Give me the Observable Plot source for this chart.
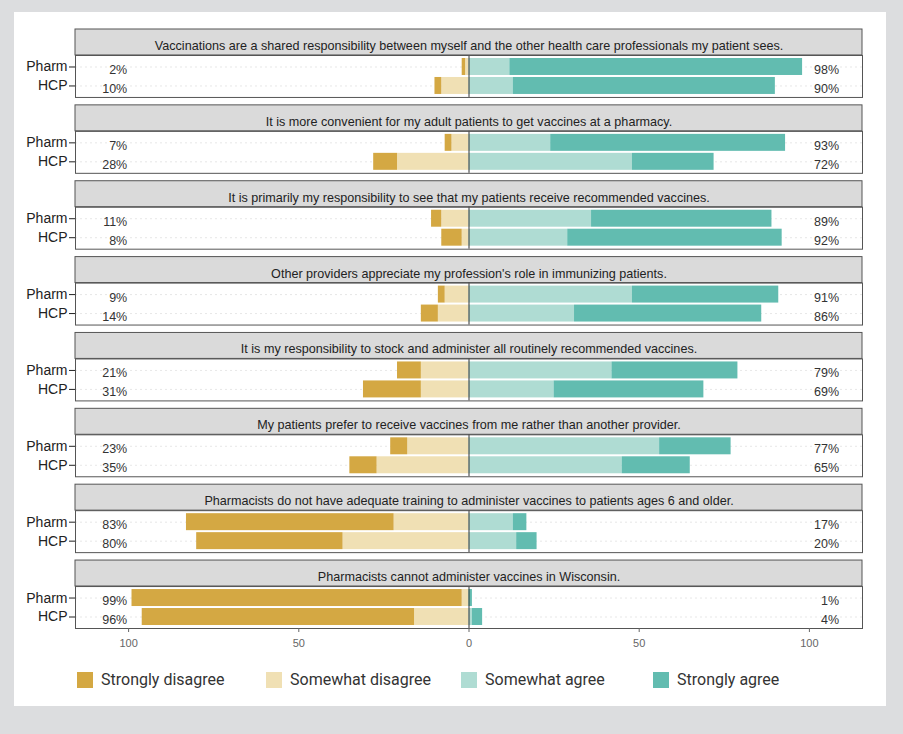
<!DOCTYPE html>
<html>
<head>
<meta charset="utf-8">
<script src="https://cdn.jsdelivr.net/npm/d3@7"></script>
<script src="https://cdn.jsdelivr.net/npm/@observablehq/plot@0.6"></script>
<style>
  html, body { margin: 0; padding: 0; background: #dcdddf; width: 903px; height: 734px; overflow: hidden; }
  #card { position: absolute; left: 14px; top: 12px; width: 872px; height: 694px; background: #ffffff; }
  #legend { position: absolute; left: 63px; top: 658px; font-family: Roboto, "Liberation Sans", sans-serif; font-size: 16px; color: #333; }
  .item { position: absolute; top: 0; white-space: nowrap; display: flex; align-items: center; }
  .sw { width: 16px; height: 16px; margin-right: 8px; display: inline-block; }
</style>
</head>
<body>
<div id="card">
  <div id="chart"></div>
  <div id="legend"></div>
</div>
<script>
const statements = [
  "Vaccinations are a shared responsibility between myself and the other health care professionals my patient sees.",
  "It is more convenient for my adult patients to get vaccines at a pharmacy.",
  "It is primarily my responsibility to see that my patients receive recommended vaccines.",
  "Other providers appreciate my profession's role in immunizing patients.",
  "It is my responsibility to stock and administer all routinely recommended vaccines.",
  "My patients prefer to receive vaccines from me rather than another provider.",
  "Pharmacists do not have adequate training to administer vaccines to patients ages 6 and older.",
  "Pharmacists cannot administer vaccines in Wisconsin."
];
const groups = ["Pharm", "HCP"];
const responses = ["Strongly disagree", "Somewhat disagree", "Somewhat agree", "Strongly agree"];
const colors = ["#d4a843", "#f0e0b4", "#afdcd3", "#62bcb0"];
const xTicks = [-100, -50, 0, 50, 100];

// values per statement: [Pharm, HCP]
const stronglyDisagree = [[1, 2], [2, 7], [3, 6], [2, 5], [7, 17], [5, 8], [61, 43], [97, 80]];
const somewhatDisagree = [[1, 8], [5, 21], [8, 2], [7, 9], [14, 14], [18, 27], [22, 37], [2, 16]];
const somewhatAgree    = [[12, 13], [24, 48], [36, 29], [48, 31], [42, 25], [56, 45], [13, 14], [0, 1]];
const stronglyAgree    = [[86, 77], [69, 24], [53, 63], [43, 55], [37, 44], [21, 20], [4, 6], [1, 3]];
const disagreeTotals   = [[2, 10], [7, 28], [11, 8], [9, 14], [21, 31], [23, 35], [83, 80], [99, 96]];
const agreeTotals      = [[98, 90], [93, 72], [89, 92], [91, 86], [79, 69], [77, 65], [17, 20], [1, 4]];

const bars = [];
const labels = [];
statements.forEach((s, i) => {
  groups.forEach((g, j) => {
    bars.push({statement: s, group: g, response: "Somewhat disagree", value: -somewhatDisagree[i][j]});
    bars.push({statement: s, group: g, response: "Strongly disagree", value: -stronglyDisagree[i][j]});
    bars.push({statement: s, group: g, response: "Somewhat agree", value: somewhatAgree[i][j]});
    bars.push({statement: s, group: g, response: "Strongly agree", value: stronglyAgree[i][j]});
    labels.push({statement: s, group: g, dis: disagreeTotals[i][j] + "%", agr: agreeTotals[i][j] + "%"});
  });
});
const heads = statements.map(s => ({statement: s}));

const chart = Plot.plot({
  width: 872,
  height: 646,
  marginTop: 43,
  marginBottom: 30,
  marginLeft: 61,
  marginRight: 24,
  style: {fontFamily: "'Liberation Sans', Arial, sans-serif", background: "transparent"},
  x: {domain: [-115.6, 115.6], label: null},
  y: {domain: groups, paddingInner: 0.105, paddingOuter: 0.158, label: null, round: false},
  fy: {domain: statements, axis: null, paddingInner: 0.447, paddingOuter: 0, round: false},
  color: {domain: responses, range: colors},
  marks: [
    Plot.rect(heads, {fy: "statement", insetTop: -26, insetBottom: 42, fill: "#dadada", stroke: "#555", strokeWidth: 1}),
    Plot.text(heads, {fy: "statement", text: "statement", frameAnchor: "top", dy: -14.5, fontSize: 12.6, fill: "#222"}),
    Plot.gridY({stroke: "#bbb", strokeOpacity: 0.35, strokeDasharray: "2,3"}),
    Plot.barX(bars, {x: "value", y: "group", fy: "statement", fill: "response", order: ["Somewhat disagree", "Strongly disagree", "Somewhat agree", "Strongly agree"]}),
    Plot.ruleX([0], {stroke: "#333", strokeWidth: 1}),
    Plot.text(labels, {x: -100.4, y: "group", fy: "statement", text: "dis", textAnchor: "end", dy: 3, fontSize: 12.5, fill: "#333"}),
    Plot.text(labels, {x: 108.7, y: "group", fy: "statement", text: "agr", textAnchor: "end", dy: 3, fontSize: 12.5, fill: "#333"}),
    Plot.frame({stroke: "#555", strokeWidth: 1}),
    Plot.axisY({fontSize: 14, tickSize: 6, tickPadding: 2, color: "#222", label: null}),
    Plot.axisX({ticks: xTicks, tickFormat: d => Math.abs(d), fontSize: 11, tickSize: 4, tickPadding: 7, color: "#666", label: null})
  ]
});
document.getElementById("chart").appendChild(chart);

const legend = document.getElementById("legend");
const offsets = [0, 189, 384, 576];
responses.forEach((r, i) => {
  const it = document.createElement("div");
  it.className = "item";
  it.style.left = offsets[i] + "px";
  const sw = document.createElement("span");
  sw.className = "sw";
  sw.style.background = colors[i];
  const t = document.createElement("span");
  t.textContent = r;
  it.appendChild(sw);
  it.appendChild(t);
  legend.appendChild(it);
});
</script>
</body>
</html>
